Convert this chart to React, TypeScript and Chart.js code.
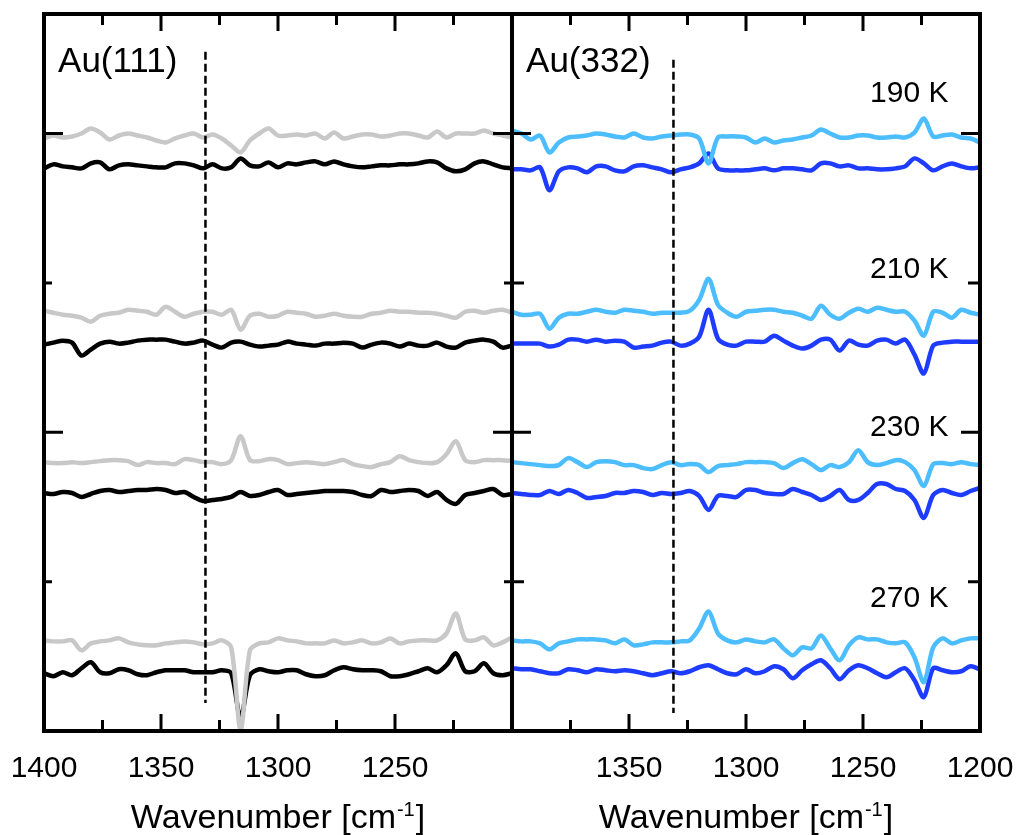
import React, { useEffect, useRef } from "react";
import { Chart, registerables } from "chart.js";

Chart.register(...registerables);

// ---------------- data ----------------
const wavenumbers = [
  1400, 1396, 1392, 1388, 1384, 1380, 1376, 1372, 1368, 1364,
  1360, 1356, 1352, 1348, 1344, 1340, 1336, 1332, 1328, 1324,
  1320, 1316, 1312, 1308, 1304, 1300, 1296, 1292, 1288, 1284,
  1280, 1276, 1272, 1268, 1264, 1260, 1256, 1252, 1248, 1244,
  1240, 1236, 1232, 1228, 1224, 1220, 1216, 1212, 1208, 1204,
  1200,
];

const temperatures = ["190 K", "210 K", "230 K", "270 K"];

// vertical offsets of each trace (stacked spectra)
const grayOffsets = [448, 270, 120, -59];
const blackOffsets = [417, 240, 89, -92];
const lightBlueOffsets = [448, 270, 119, -59];
const blueOffsets = [415, 240, 89, -89];

// Au(111) – light grey traces
const au111Gray190 = [-3,0,-2,-1,2,7,3,-4,0,2, 0,-2,-5,-7,-3,0,2,-2,1,-3, -10,-17,-5,2,7,0,0,1,0,2, -3,3,-3,-1,1,1,-1,0,2,2, 0,-2,4,-2,2,2,2,5,2,0, -2];
const au111Gray210 = [2,0,-2,-3,-5,-9,-3,-1,0,3, 2,1,-2,6,1,-4,-1,1,1,-2, 3,-17,-3,-1,-4,-3,1,0,-1,-4, -3,-1,-3,-4,-4,-1,0,2,1,1, 0,0,-1,-3,-5,1,2,0,2,3, 0];
const au111Gray230 = [0,-1,-1,0,-1,0,1,2,2,1, -3,0,-1,-1,-2,3,2,0,0,-2, 2,26,2,1,3,2,-2,-1,0,-1, -2,0,2,-2,-4,-5,-2,0,6,2, 0,-1,0,8,21,2,0,2,2,2, 1];
const au111Gray270 = [0,-1,-1,0,-10,-3,-1,0,2,-2, -4,-5,-5,-3,-2,-1,-2,-4,-3,0, -7,-90,-10,-3,-2,2,0,-1,-3,-3, -3,0,-3,-2,0,-3,-2,2,-3,-1, 0,0,0,7,27,1,0,3,-5,-2, 3];

// Au(111) – black traces
const au111Black190 = [-2,2,0,-1,-2,3,4,-3,1,2, 1,0,-1,-1,3,3,1,-2,2,-2, -1,8,1,0,4,-1,3,2,4,5, 2,5,2,0,-1,0,1,1,2,2, 3,5,4,-2,-5,-3,3,5,2,-1, -2];
const au111Black210 = [-2,0,2,0,-13,-7,-1,1,-1,0, 2,3,3,3,1,-1,0,2,-2,-5, 0,1,-2,-4,-3,-2,1,-1,-2,-3, -1,-1,0,-1,-5,-2,0,-1,-4,-1, -3,-3,0,-4,-5,0,2,3,1,-5, -3];
const au111Black230 = [0,-1,1,0,-4,-1,2,3,1,2, 3,3,4,3,0,1,-4,-8,-7,-6, -4,1,-3,-2,1,3,-2,-1,0,1, 2,2,2,1,-2,-3,3,1,2,3, 2,-3,1,-7,-11,-2,0,2,4,-2, -1];
const au111Black270 = [0,-3,1,-2,5,11,1,0,4,3, -1,-2,1,3,3,3,1,1,1,3, 0,-45,-2,4,2,1,3,3,-1,-3, -2,3,6,4,3,3,2,-3,-3,-1, 2,5,1,8,20,2,2,10,0,-2, 0];

// Au(332) – light blue traces
const au332LightBlue190 = [5,2,-4,0,-17,-7,-2,-1,0,2, 1,-1,-2,2,-2,-3,-1,0,1,1, -3,-28,-2,-1,-1,-2,-7,-3,-7,-5, -4,-2,0,6,2,-2,-2,0,0,-2, -2,-1,-2,3,17,-1,0,1,-2,-3, -7];
const au332LightBlue210 = [1,-2,-2,-1,-16,-5,-1,-1,1,3, 1,0,3,2,1,-1,0,0,0,2, 13,34,8,0,-4,1,2,3,3,1, 0,-3,-6,7,-2,-6,0,4,1,5, 3,1,1,-8,-23,1,0,-5,3,0, -2];
const au332LightBlue230 = [1,0,-1,-2,-3,-2,5,1,-4,1, 2,1,-2,-2,-5,-6,-2,1,-2,-1, -2,-9,-3,-2,-1,1,1,1,0,-5, 0,4,-1,-7,-2,-4,1,13,1,-2, 0,3,1,-7,-23,-1,0,-1,1,-1, -2];
const au332LightBlue270 = [0,-1,-1,-3,-9,-3,-1,1,1,1, 0,-3,1,-5,-4,-2,-2,-2,-1,0, 12,29,7,0,-2,1,-1,-2,1,-8, -15,-7,-8,5,-8,-20,-5,3,1,1, -2,-3,-2,-17,-42,-7,2,-3,0,2, 2];

// Au(332) – blue traces
const au332Blue190 = [-1,-1,-2,1,-22,-3,1,0,-4,2, 2,-2,-3,2,3,1,-1,-4,-1,1, 5,15,0,-2,-2,-2,-1,0,-2,0, 0,-1,-2,5,5,2,3,0,0,-1, -1,0,2,10,5,-2,2,5,2,0, 1];
const au332Blue210 = [-1,-1,-1,-1,-4,-2,3,3,1,3, 1,2,1,-5,-4,-3,0,1,-3,-1, 6,33,4,-2,-3,1,1,1,7,2, -3,-6,-3,3,3,-8,2,-2,-3,2, 3,-1,3,-12,-31,-3,0,1,1,1, 1];
const au332Blue230 = [0,-1,-2,-2,2,-1,3,0,-5,-4, -3,0,0,2,1,-2,0,-1,0,2, -3,-17,-3,-3,-4,3,3,0,-1,-1, 4,1,-2,-7,-3,3,-7,-7,0,9, 9,4,2,-7,-25,-2,3,0,-2,2, 5];
const au332Blue270 = [2,1,1,-1,-3,-3,1,0,-2,1, 0,-1,0,-1,-3,-5,-3,-1,-3,-1, 3,5,1,-3,-4,1,-3,-1,4,1, -8,0,6,10,2,-9,0,5,2,-3, -7,-2,2,-10,-27,2,0,-2,-1,4, 1];

const xMajorTicks = [1400, 1350, 1300, 1250, 1200];
const xMinorTicks = [1375, 1325, 1275, 1225];
const yMajorTicks = [150, 450];
const yMinorTicks = [0, 300];
const leftTickLabels = ["1400", "1350", "1300", "1250"];
const rightTickLabels = ["1350", "1300", "1250", "1200"];
const markerWavenumber = 1331;

const GRAY = "#c8c8c8";
const BLACK = "#000000";
const LIGHT_BLUE = "#4cbdff";
const BLUE = "#1e3cff";
const FONT = "'Liberation Sans', Arial, Helvetica, sans-serif";

function trace(values: number[], offset: number) {
  return wavenumbers.map((w, i) => ({ x: w, y: offset + values[i] }));
}

type PanelCfg = {
  id: string;
  padLeft: number;
  padRight: number;
  upper: number[][];
  lower: number[][];
  upperOffsets: number[];
  lowerOffsets: number[];
  upperColor: string;
  lowerColor: string;
  tickLabels: string[];
  title: string;
  minorY: number;
  dashTop: number;
  dashBottom: number;
  showTemps: boolean;
};

function makePlugin(cfg: PanelCfg) {
  return {
    id: "decor_" + cfg.id,
    afterDatasetsDraw(chart: any) {
      const { ctx, chartArea: a } = chart;
      const x = chart.scales.x;
      const y = chart.scales.y;
      ctx.save();
      // dashed marker line
      const mx = x.getPixelForValue(markerWavenumber);
      ctx.strokeStyle = BLACK;
      ctx.lineWidth = 2.5;
      ctx.setLineDash([8, 4]);
      ctx.beginPath();
      ctx.moveTo(mx, y.getPixelForValue(cfg.dashTop));
      ctx.lineTo(mx, y.getPixelForValue(cfg.dashBottom));
      ctx.stroke();
      ctx.setLineDash([]);

      // ticks
      ctx.lineWidth = 3;
      ctx.lineCap = "butt";
      const xt = (v: number, len: number) => {
        const px = x.getPixelForValue(v);
        ctx.beginPath();
        ctx.moveTo(px, a.bottom);
        ctx.lineTo(px, a.bottom - len);
        ctx.moveTo(px, a.top);
        ctx.lineTo(px, a.top + len);
        ctx.stroke();
      };
      xMajorTicks.forEach((v) => xt(v, 17));
      xMinorTicks.forEach((v) => xt(v, 11));
      const yt = (v: number, len: number) => {
        const py = y.getPixelForValue(v);
        ctx.beginPath();
        ctx.moveTo(a.left, py);
        ctx.lineTo(a.left + len, py);
        ctx.moveTo(a.right, py);
        ctx.lineTo(a.right - len, py);
        ctx.stroke();
      };
      yMajorTicks.forEach((v) => yt(v, 19));
      yMinorTicks.forEach((v) => yt(v, cfg.minorY));

      // frame
      ctx.lineWidth = 4;
      ctx.strokeRect(a.left, a.top, a.right - a.left, a.bottom - a.top);

      // tick labels
      ctx.fillStyle = BLACK;
      ctx.font = `30px ${FONT}`;
      ctx.textAlign = "center";
      ctx.textBaseline = "alphabetic";
      cfg.tickLabels.forEach((t) => {
        ctx.fillText(t, x.getPixelForValue(Number(t)), a.bottom + 46);
      });

      // axis title with superscript
      const cx = (a.left + a.right) / 2;
      const main = "Wavenumber [cm";
      const sup = "-1";
      const end = "]";
      ctx.font = `34px ${FONT}`;
      const wMain = ctx.measureText(main).width;
      const wEnd = ctx.measureText(end).width;
      ctx.font = `20px ${FONT}`;
      const wSup = ctx.measureText(sup).width;
      const total = wMain + wSup + wEnd + 2;
      let sx = cx - total / 2;
      ctx.textAlign = "left";
      ctx.font = `34px ${FONT}`;
      ctx.fillText(main, sx, a.bottom + 97);
      sx += wMain + 1;
      ctx.font = `20px ${FONT}`;
      ctx.fillText(sup, sx, a.bottom + 85);
      sx += wSup + 1;
      ctx.font = `34px ${FONT}`;
      ctx.fillText(end, sx, a.bottom + 97);

      // panel label
      ctx.font = `35px ${FONT}`;
      ctx.textAlign = "left";
      ctx.fillText(cfg.title, x.getPixelForValue(1394), y.getPixelForValue(512));

      // temperature labels
      if (cfg.showTemps) {
        ctx.font = `30px ${FONT}`;
        ctx.textAlign = "right";
        const ty = [482, 305, 146, -25];
        temperatures.forEach((t, i) => {
          ctx.fillText(t, x.getPixelForValue(1213.5), y.getPixelForValue(ty[i]));
        });
      }
      ctx.restore();
    },
  };
}

function Panel({ cfg }: { cfg: PanelCfg }) {
  const ref = useRef<HTMLCanvasElement | null>(null);
  useEffect(() => {
    if (!ref.current) return;
    const datasets: any[] = [];
    for (let i = 0; i < 4; i++) {
      datasets.push({
        data: trace(cfg.upper[i], cfg.upperOffsets[i]),
        borderColor: cfg.upperColor,
        borderWidth: 4.5,
        pointRadius: 0,
        tension: 0.3,
        fill: false,
        borderJoinStyle: "round",
        borderCapStyle: "round",
      });
      datasets.push({
        data: trace(cfg.lower[i], cfg.lowerOffsets[i]),
        borderColor: cfg.lowerColor,
        borderWidth: 4.5,
        pointRadius: 0,
        tension: 0.3,
        fill: false,
        borderJoinStyle: "round",
        borderCapStyle: "round",
      });
    }
    const chart = new Chart(ref.current, {
      type: "line",
      data: { datasets },
      options: {
        animation: false,
        responsive: false,
        maintainAspectRatio: false,
        devicePixelRatio: 1,
        layout: {
          padding: { left: cfg.padLeft, right: cfg.padRight, top: 14, bottom: 104 },
        },
        plugins: { legend: { display: false }, tooltip: { enabled: false } },
        events: [],
        scales: {
          x: { type: "linear", min: 1200, max: 1400, reverse: true, display: false },
          y: { type: "linear", min: -150, max: 570, display: false },
        },
      },
      plugins: [makePlugin(cfg)],
    } as any);
    return () => chart.destroy();
  }, [cfg]);
  return (
    <canvas
      ref={ref}
      width={1019}
      height={835}
      style={{ position: "absolute", left: 0, top: 0, width: 1019, height: 835 }}
    />
  );
}

const leftCfg: PanelCfg = {
  id: "au111",
  padLeft: 44,
  padRight: 1019 - 512,
  upper: [au111Gray190, au111Gray210, au111Gray230, au111Gray270],
  lower: [au111Black190, au111Black210, au111Black230, au111Black270],
  upperOffsets: grayOffsets,
  lowerOffsets: blackOffsets,
  upperColor: GRAY,
  lowerColor: BLACK,
  tickLabels: leftTickLabels,
  title: "Au(111)",
  minorY: 8,
  dashTop: 532,
  dashBottom: -122,
  showTemps: false,
};

const rightCfg: PanelCfg = {
  id: "au332",
  padLeft: 512,
  padRight: 1019 - 980,
  upper: [au332LightBlue190, au332LightBlue210, au332LightBlue230, au332LightBlue270],
  lower: [au332Blue190, au332Blue210, au332Blue230, au332Blue270],
  upperOffsets: lightBlueOffsets,
  lowerOffsets: blueOffsets,
  upperColor: LIGHT_BLUE,
  lowerColor: BLUE,
  tickLabels: rightTickLabels,
  title: "Au(332)",
  minorY: 12,
  dashTop: 524,
  dashBottom: -132,
  showTemps: true,
};

export default function App() {
  return (
    <div style={{ position: "absolute", left: 0, top: 0, width: 1019, height: 835, background: "#fff" }}>
      <Panel cfg={leftCfg} />
      <Panel cfg={rightCfg} />
    </div>
  );
}
